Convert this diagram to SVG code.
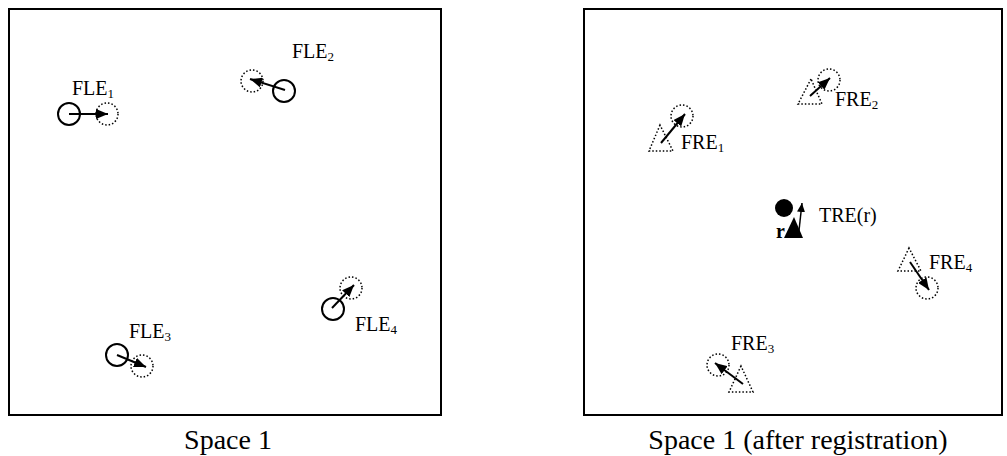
<svg xmlns="http://www.w3.org/2000/svg" width="1007" height="456" viewBox="0 0 1007 456">
<style>
  .frame{fill:none;stroke:#000;stroke-width:2}
  .solid{fill:none;stroke:#000;stroke-width:2}
  .dot{fill:none;stroke:#000;stroke-width:1.5;stroke-dasharray:1.5 2}
  .arr{stroke:#000;stroke-width:2;fill:none;marker-end:url(#ah)}
  .arr2{stroke:#000;stroke-width:1.5;fill:none;marker-end:url(#ah2)}
  .lbl{font-family:"Liberation Serif","Times New Roman",serif;font-size:20px;fill:#000}
  .sub{font-size:13px}
  .cap{font-family:"Liberation Serif","Times New Roman",serif;font-size:28px;fill:#000;text-anchor:middle}
</style>
<defs>
  <marker id="ah" markerUnits="userSpaceOnUse" markerWidth="12" markerHeight="10" refX="12" refY="5" orient="auto">
    <path d="M0,0 L12,5 L0,10 z" fill="#000"/>
  </marker>
  <marker id="ah2" markerUnits="userSpaceOnUse" markerWidth="9" markerHeight="8" refX="9" refY="4" orient="auto">
    <path d="M0,0 L9,4 L0,8 z" fill="#000"/>
  </marker>
</defs>
<rect width="1007" height="456" fill="#fff"/>
<g id="frames">
  <rect class="frame" x="9" y="9" width="432" height="406"/>
  <rect class="frame" x="584" y="9" width="418" height="406"/>
</g>
<g id="captions">
  <text class="cap" x="228" y="449">Space 1</text>
  <text class="cap" x="798" y="449">Space 1 (after registration)</text>
</g>
<g id="FLE1">
  <circle class="solid" cx="69" cy="114" r="11"/>
  <circle class="dot" cx="107" cy="114" r="11"/>
  <text class="lbl" x="72" y="95">FLE<tspan class="sub" dy="3">1</tspan></text>
</g>
<g id="FLE2">
  <circle class="dot" cx="252" cy="81" r="11"/>
  <circle class="solid" cx="284" cy="91" r="11"/>
  <text class="lbl" x="292" y="58">FLE<tspan class="sub" dy="3">2</tspan></text>
</g>
<g id="FLE3">
  <circle class="solid" cx="117" cy="355" r="11"/>
  <circle class="dot" cx="142" cy="366" r="11"/>
  <text class="lbl" x="129" y="338">FLE<tspan class="sub" dy="3">3</tspan></text>
</g>
<g id="FLE4">
  <circle class="solid" cx="333" cy="309" r="11"/>
  <circle class="dot" cx="351" cy="288" r="11"/>
  <text class="lbl" x="355" y="331">FLE<tspan class="sub" dy="3">4</tspan></text>
</g>
<g id="FRE1">
  <polygon class="dot" points="660,125 649,151 673,151"/>
  <circle class="dot" cx="682" cy="116" r="11"/>
  <text class="lbl" x="681" y="149">FRE<tspan class="sub" dy="3">1</tspan></text>
</g>
<g id="FRE2">
  <polygon class="dot" points="811,79 798,104 822,104"/>
  <circle class="dot" cx="829" cy="80" r="11"/>
  <text class="lbl" x="835" y="106">FRE<tspan class="sub" dy="3">2</tspan></text>
</g>
<g id="FRE3">
  <polygon class="dot" points="741,366 729,392 753,392"/>
  <circle class="dot" cx="718" cy="365" r="11"/>
  <text class="lbl" x="731" y="350">FRE<tspan class="sub" dy="3">3</tspan></text>
</g>
<g id="FRE4">
  <polygon class="dot" points="909,248 898,271 921,271"/>
  <circle class="dot" cx="927" cy="288" r="11"/>
  <text class="lbl" x="929" y="269">FRE<tspan class="sub" dy="3">4</tspan></text>
</g>
<g id="TRE">
  <circle cx="784" cy="208" r="9" fill="#000"/>
  <polygon points="794,217 784,238 803,238" fill="#000"/>
  <text class="lbl" x="776" y="238" font-weight="bold">r</text>
  <text class="lbl" x="819" y="222">TRE(r)</text>
</g>
<g id="connectors">
  <line class="arr" x1="69" y1="114" x2="108" y2="114"/>
  <line class="arr" x1="285" y1="90" x2="250" y2="79"/>
  <line class="arr" x1="117" y1="355" x2="146" y2="367"/>
  <line class="arr" x1="332" y1="308" x2="354" y2="285"/>
  <line class="arr" x1="661" y1="143" x2="685" y2="114"/>
  <line class="arr" x1="810" y1="96" x2="830" y2="78"/>
  <line class="arr" x1="743" y1="384" x2="715" y2="363"/>
  <line class="arr" x1="910" y1="262" x2="929" y2="290"/>
  <line class="arr2" x1="798.5" y1="235" x2="802" y2="203"/>
</g>
</svg>
